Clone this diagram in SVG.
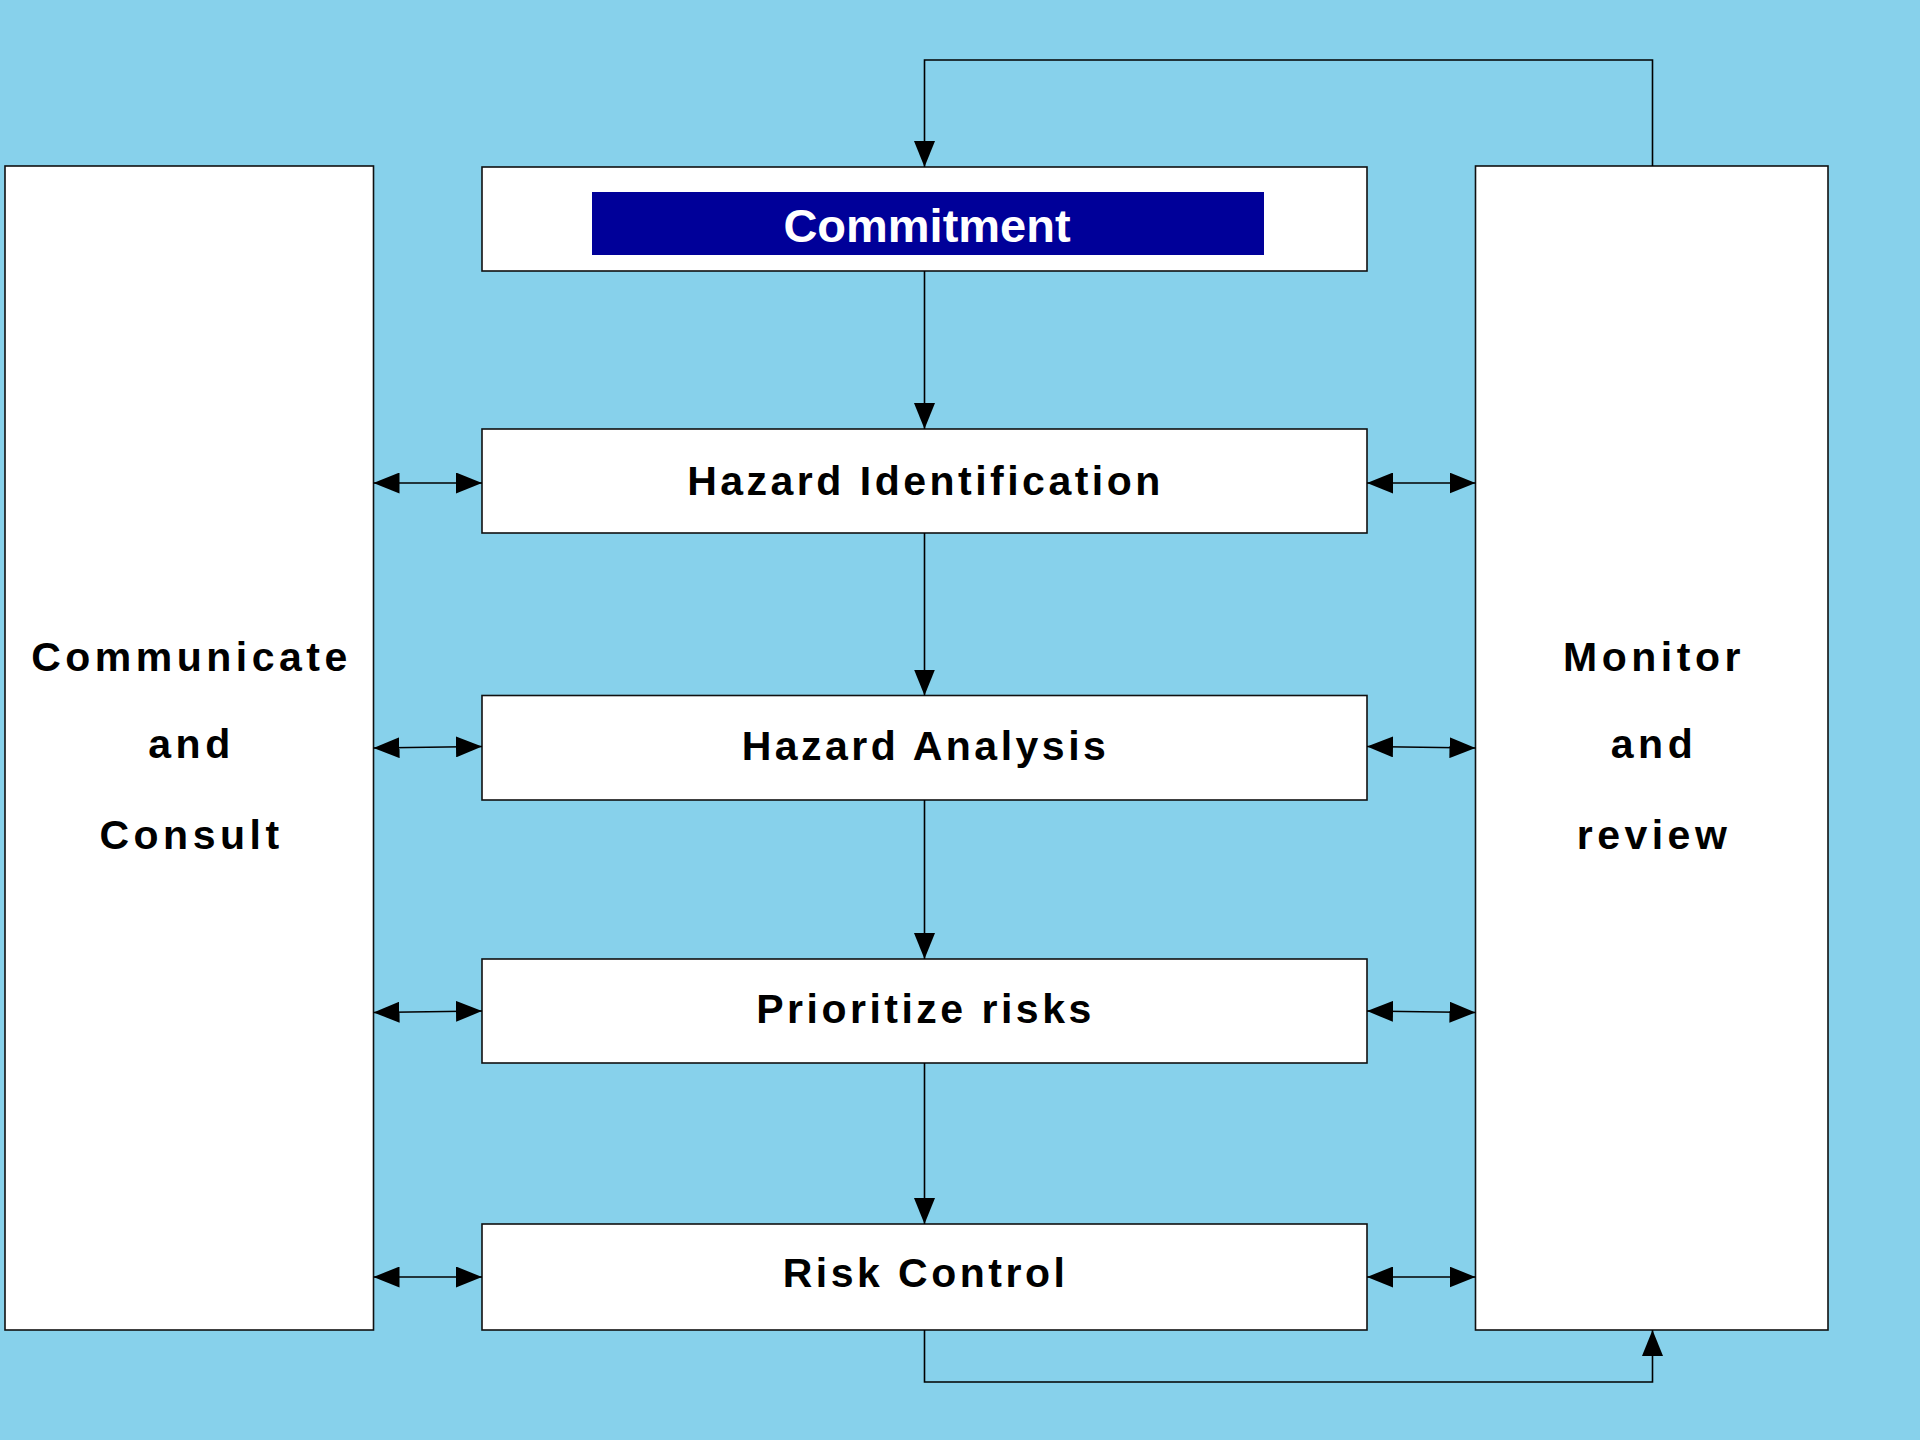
<svg xmlns="http://www.w3.org/2000/svg" width="1920" height="1440" viewBox="0 0 1920 1440">
  <style>
    .box { fill: #ffffff; stroke: #111111; stroke-width: 1.6; }
    .label { font-family: "Liberation Sans", Arial, sans-serif; font-weight: bold; font-size: 41px; fill: #000000; text-anchor: middle; }
    .step { letter-spacing: 3.5px; }
    .side { letter-spacing: 4.5px; }
    .title { font-family: "Liberation Sans", Arial, sans-serif; font-weight: bold; font-size: 47px; fill: #ffffff; text-anchor: middle; }
    .wire { fill: none; stroke: #000000; stroke-width: 1.6; }
    .flow { marker-end: url(#head); }
    .both { marker-start: url(#head); marker-end: url(#head); }
  </style>
  <defs>
    <marker id="head" viewBox="0 0 26 21" refX="26" refY="10.5" markerUnits="userSpaceOnUse" markerWidth="26" markerHeight="21" orient="auto-start-reverse">
      <path d="M0,0 L26,10.5 L0,21 Z" fill="#000000"/>
    </marker>
  </defs>

  <!-- background -->
  <rect x="0" y="0" width="1920" height="1440" fill="#87D1EB"/>

  <!-- side panels -->
  <g id="communicate">
    <rect class="box" x="5" y="166" width="368.5" height="1164"/>
    <text class="label side" x="191.5" y="671">Communicate</text>
    <text class="label side" x="191.5" y="758">and</text>
    <text class="label side" x="191.5" y="849">Consult</text>
  </g>
  <g id="monitor">
    <rect class="box" x="1475.5" y="166" width="352.5" height="1164"/>
    <text class="label side" x="1654" y="671">Monitor</text>
    <text class="label side" x="1654" y="758">and</text>
    <text class="label side" x="1654" y="849">review</text>
  </g>

  <!-- process steps -->
  <g id="commitment">
    <rect class="box" x="482" y="167" width="885" height="104"/>
    <rect x="592" y="192" width="672" height="63" fill="#000099"/>
    <text class="title" x="927" y="242">Commitment</text>
  </g>
  <g id="hazard-identification">
    <rect class="box" x="482" y="429" width="885" height="104"/>
    <text class="label step" x="925.5" y="495">Hazard Identification</text>
  </g>
  <g id="hazard-analysis">
    <rect class="box" x="482" y="695.5" width="885" height="104.5"/>
    <text class="label step" x="925.5" y="760">Hazard Analysis</text>
  </g>
  <g id="prioritize-risks">
    <rect class="box" x="482" y="959" width="885" height="104"/>
    <text class="label step" x="925.5" y="1023">Prioritize risks</text>
  </g>
  <g id="risk-control">
    <rect class="box" x="482" y="1224" width="885" height="106"/>
    <text class="label step" x="925.5" y="1287">Risk Control</text>
  </g>

  <!-- connectors -->
  <g id="connectors">
    <!-- main flow -->
    <path class="wire flow" d="M924.5,271 L924.5,429"/>
    <path class="wire flow" d="M924.5,533 L924.5,695.5"/>
    <path class="wire flow" d="M924.5,800 L924.5,959"/>
    <path class="wire flow" d="M924.5,1063 L924.5,1224"/>

    <!-- review loop back to commitment -->
    <path class="wire flow" d="M1652.5,166 L1652.5,60 L924.5,60 L924.5,167"/>
    <!-- risk control feeding monitor and review -->
    <path class="wire flow" d="M924.5,1330 L924.5,1382 L1652.5,1382 L1652.5,1330"/>

    <!-- communicate and consult links -->
    <path class="wire both" d="M373.5,483 L482,483"/>
    <path class="wire both" d="M373.5,748 L482,746.5"/>
    <path class="wire both" d="M373.5,1012.5 L482,1011"/>
    <path class="wire both" d="M373.5,1277 L482,1277"/>

    <!-- monitor and review links -->
    <path class="wire both" d="M1367,483 L1475.5,483"/>
    <path class="wire both" d="M1367,746.5 L1475.5,748"/>
    <path class="wire both" d="M1367,1011 L1475.5,1012.5"/>
    <path class="wire both" d="M1367,1277 L1475.5,1277"/>
  </g>
</svg>
